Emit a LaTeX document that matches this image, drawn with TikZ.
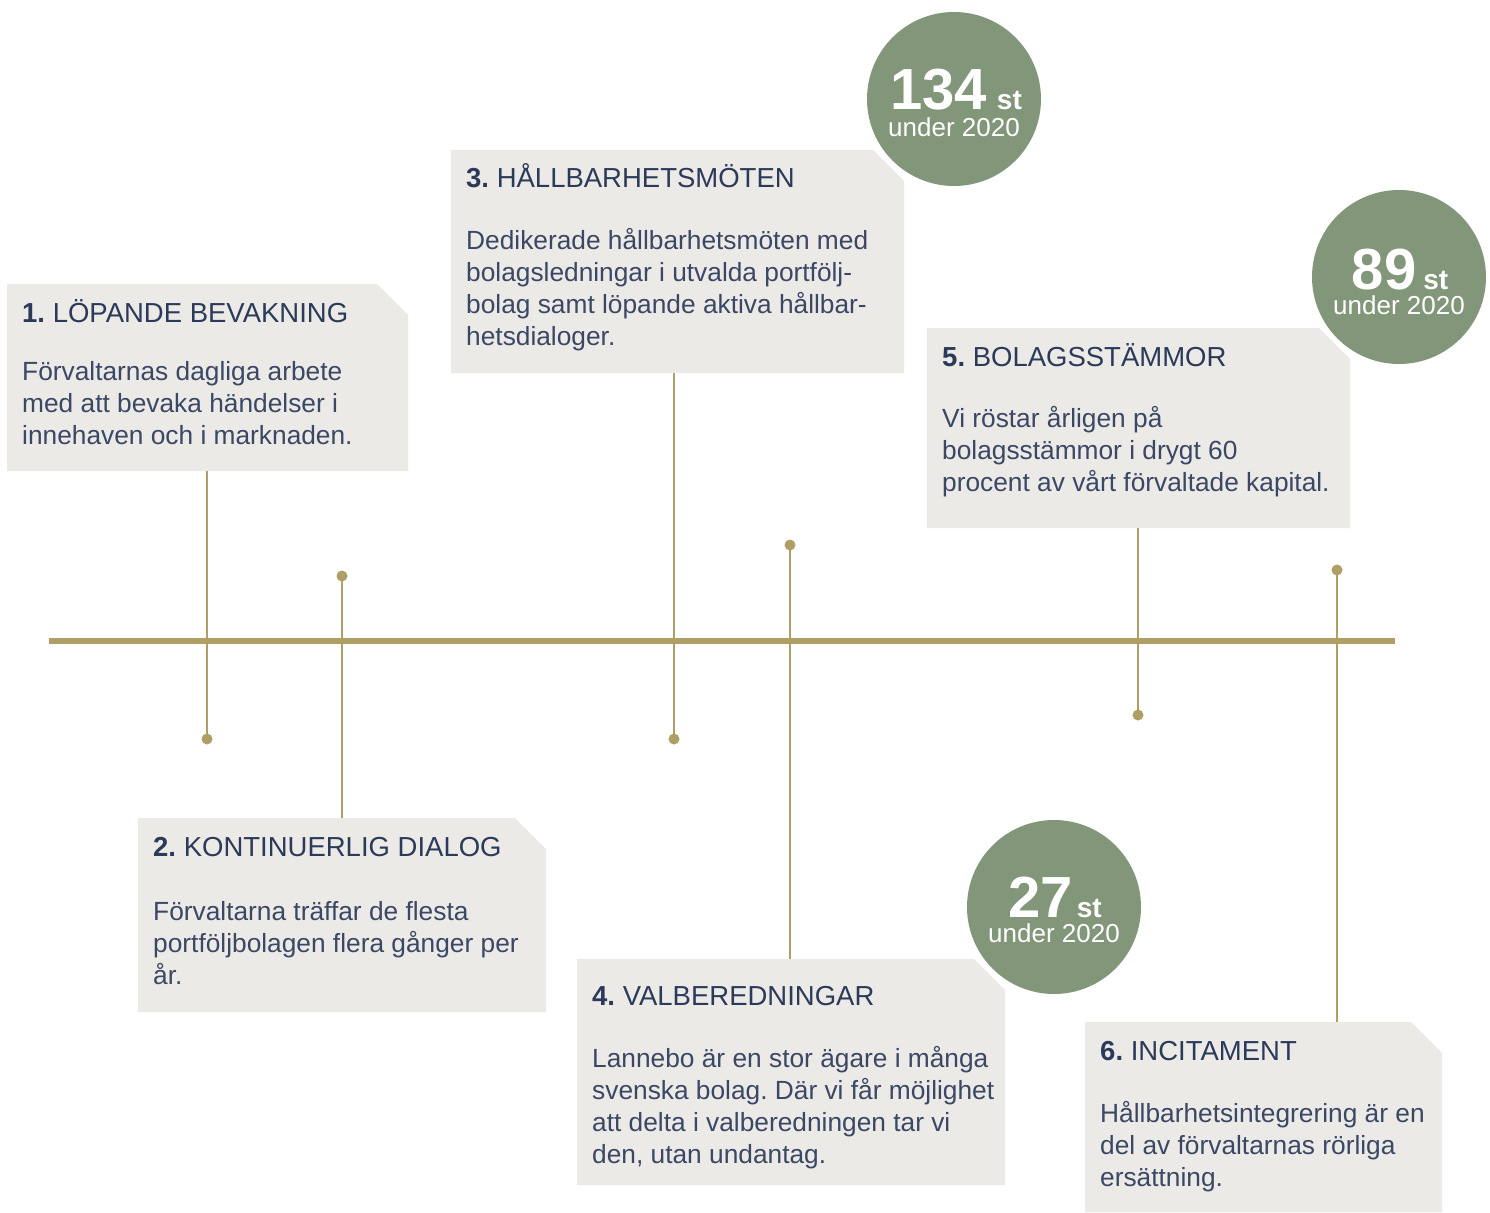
\documentclass[tikz,border=0pt]{standalone}
\usepackage{fontspec}
\setmainfont{Liberation Sans}
\frenchspacing
\definecolor{navy}{HTML}{2C3A5A}
\definecolor{bodytxt}{HTML}{3A4765}
\definecolor{panel}{HTML}{ECEAE6}
\definecolor{sage}{HTML}{829679}
\definecolor{gold}{HTML}{B09F65}

\begin{document}
\begin{tikzpicture}[x=1pt,y=-1pt,
  panelbox/.style={rectangle, inner sep=0pt, outer sep=0pt, anchor=north west},
  heading/.style={anchor=base west, inner sep=0pt, text=navy,
    font=\fontsize{27.5}{32}\selectfont},
  % multi-line body: the base anchor sits on the last line
  bodytext/.style={anchor=base west, inner sep=0pt, text=bodytxt, align=left,
    font=\fontsize{26.3}{32}\selectfont},
  badge/.style={circle, fill=sage, minimum size=174pt, inner sep=0pt},
  bignum/.style={anchor=base, inner sep=0pt, text=white, text depth=0pt,
    font=\fontsize{58}{58}\selectfont\bfseries},
  yearlbl/.style={anchor=base, inner sep=0pt, text=white, text height=19pt,
    font=\fontsize{26}{26}\selectfont},
  pin/.style={circle, fill=gold, minimum size=11pt, inner sep=0pt},
  conn/.style={draw=gold, line width=2.4pt},
  axis/.style={draw=gold, line width=5.5pt}
]
\useasboundingbox (0,0) rectangle (1490,1212);

% panel with a cut top-right corner
\newcommand\panelfill[1]{%
  \fill[panel] (#1.south west) -- (#1.north west)
    -- ([xshift=-31pt]#1.north east) -- ([yshift=-31pt]#1.north east)
    -- (#1.south east) -- cycle;}

% timeline
\coordinate (tl-start) at (49,641);
\coordinate (tl-end) at (1395,641);
\draw[axis] (tl-start) -- (tl-end);

% pins
\node[pin] (p1) at (207,739) {};
\node[pin] (p2) at (342,576) {};
\node[pin] (p3) at (674,739) {};
\node[pin] (p4) at (790,545) {};
\node[pin] (p5) at (1138,715) {};
\node[pin] (p6) at (1337,570) {};

% panels
\node[panelbox, minimum width=401pt, minimum height=187pt] (b1) at (7,284) {};
\node[panelbox, minimum width=408pt, minimum height=194pt] (b2) at (138,818) {};
\node[panelbox, minimum width=453pt, minimum height=223pt] (b3) at (451,150) {};
\node[panelbox, minimum width=428pt, minimum height=226pt] (b4) at (577,959) {};
\node[panelbox, minimum width=423pt, minimum height=200pt] (b5) at (927,328) {};
\node[panelbox, minimum width=357pt, minimum height=190pt] (b6) at (1085,1022) {};
\panelfill{b1}\panelfill{b2}\panelfill{b3}\panelfill{b4}\panelfill{b5}\panelfill{b6}

% connectors
\draw[conn] (b1.south -| p1) -- (p1.center);
\draw[conn] (p2.center) -- (b2.north -| p2);
\draw[conn] (b3.south -| p3) -- (p3.center);
\draw[conn] (p4.center) -- (b4.north -| p4);
\draw[conn] (b5.south -| p5) -- (p5.center);
\draw[conn] (p6.center) -- (b6.north -| p6);

% texts
\node[heading] (h1) at (22,322) {\textbf{1.} LÖPANDE BEVAKNING};
\node[bodytext] (t1) at (22,444) {Förvaltarnas dagliga arbete\\med att bevaka händelser i\\innehaven och i marknaden.};

\node[heading] (h2) at (153,856) {\textbf{2.} KONTINUERLIG DIALOG};
\node[bodytext] (t2) at (153,984) {Förvaltarna träffar de flesta\\portföljbolagen flera gånger per\\år.};

\node[heading] (h3) at (466,187) {\textbf{3.} HÅLLBARHETSMÖTEN};
\node[bodytext] (t3) at (466,345) {Dedikerade hållbarhetsmöten med\\bolagsledningar i utvalda portfölj-\\bolag samt löpande aktiva hållbar-\\hetsdialoger.};

\node[heading] (h4) at (592,1005) {\textbf{4.} VALBEREDNINGAR};
\node[bodytext] (t4) at (592,1163) {Lannebo är en stor ägare i många\\svenska bolag. Där vi får möjlighet\\att delta i valberedningen tar vi\\den, utan undantag.};

\node[heading] (h5) at (942,366) {\textbf{5.} BOLAGSSTÄMMOR};
\node[bodytext] (t5) at (942,491) {Vi röstar årligen på\\bolagsstämmor i drygt 60\\procent av vårt förvaltade kapital.};

\node[heading] (h6) at (1100,1060) {\textbf{6.} INCITAMENT};
\node[bodytext] (t6) at (1100,1186) {Hållbarhetsintegrering är en\\del av förvaltarnas rörliga\\ersättning.};

% badges
\node[badge] (c1) at (954,99) {};
\node[badge] (c2) at (1399,277) {};
\node[badge] (c3) at (1054,907) {};

\node[bignum] (c1n) at ([xshift=2pt,yshift=-11pt]c1.center) {134\hspace{10pt}{\fontsize{28}{28}\selectfont st}};
\node[yearlbl] (c1y) at ([yshift=-37pt]c1.center) {under 2020};
\node[bignum] (c2n) at ([xshift=1pt,yshift=-12pt]c2.center) {89\hspace{7pt}{\fontsize{28}{28}\selectfont st}};
\node[yearlbl] (c2y) at ([yshift=-37pt]c2.center) {under 2020};
\node[bignum] (c3n) at ([xshift=1pt,yshift=-10pt]c3.center) {27\hspace{4pt}{\fontsize{28}{28}\selectfont st}};
\node[yearlbl] (c3y) at ([yshift=-35pt]c3.center) {under 2020};
\end{tikzpicture}
\end{document}
